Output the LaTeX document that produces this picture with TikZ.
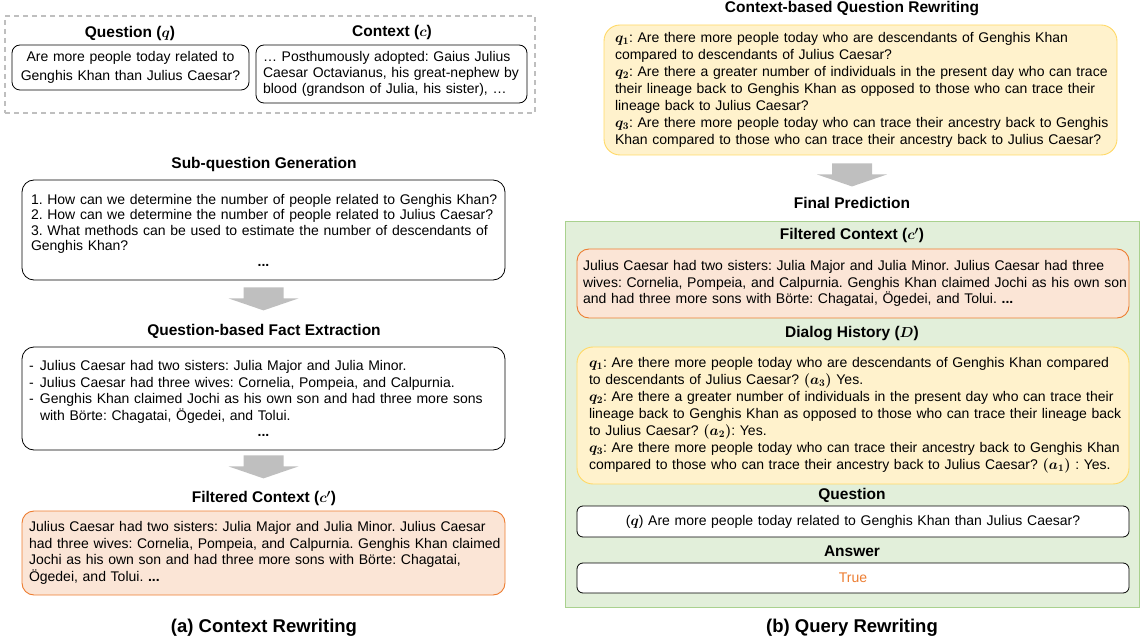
\documentclass[tikz,border=0pt]{standalone}
\usepackage{amsmath}
\usepackage{bm}
\usepackage{fontspec}
\setmainfont{Liberation Sans}
\usetikzlibrary{calc}
\definecolor{orangefill}{HTML}{FBE5D6}
\definecolor{orangeline}{HTML}{ED7D31}
\definecolor{yellowfill}{HTML}{FFF2CC}
\definecolor{yellowline}{HTML}{FFD966}
\definecolor{greenfill}{HTML}{E2EFDA}
\definecolor{greenline}{HTML}{A9D18E}
\definecolor{arrowgray}{HTML}{BFBFBF}
\definecolor{dashgray}{HTML}{BFBFBF}
\newcommand\jst[1]{\makebox[\linewidth][s]{#1}\\}
\newcommand\oneline[1]{\mbox{#1}\\}
\newcommand\ctrline[1]{\makebox[\linewidth][c]{#1}}
\tikzset{
  ttl/.style={font=\fontsize{15.5}{18}\selectfont\bfseries, inner sep=0pt, text height=11pt, text depth=3.5pt},
  captext/.style={font=\fontsize{18.5}{22}\selectfont\bfseries, inner sep=0pt},
  body/.style={font=\fontsize{14}{#1}\selectfont\frenchspacing, align=left, inner ysep=0pt},
  body/.default=16.5,
  wbox/.style={draw=black, line width=0.8pt, rounded corners=8pt, fill=white},
  obox/.style={draw=orangeline, line width=0.9pt, rounded corners=12pt, fill=orangefill},
  ybox/.style={draw=yellowline, line width=0.9pt, rounded corners=16pt, fill=yellowfill},
  gbox/.style={draw=greenline, line width=1pt, fill=greenfill},
  dbox/.style={draw=dashgray, line width=1.2pt, dash pattern=on 5pt off 4pt},
  wh/.style 2 args={minimum width=#1, minimum height=#2},
  downarrow/.pic={\fill[arrowgray] (-20,0) -- (20,0) -- (20,11) -- (35,11) -- (0,23) -- (-35,11) -- (-20,11) -- cycle;}
}
\begin{document}
\frenchspacing
\begin{tikzpicture}[x=1pt,y=-1pt]
\useasboundingbox (0,0) rectangle (1141,644);

% ---------- left: context rewriting ----------
\node[dbox, wh={530pt}{97pt}] (inputs) at (270,64.5) {};
\node[ttl] (qtitle) at (130,34) {Question ($\bm{q}$)};
\node[wbox, body=19, align=center, wh={237pt}{45pt}, text width=225pt, inner xsep=6pt] (qbox) at (130.5,67.5)
  {Are more people today related to\\Genghis Khan than Julius Caesar?};
\node[ttl] (ctitle) at (392,33) {Context ($\bm{c}$)};
\node[wbox, body=16, wh={271pt}{58pt}, text width=257pt, inner xsep=7pt] (cbox) at (391.5,74)
  {\jst{… Posthumously adopted: Gaius Julius}
   \jst{Caesar Octavianus, his great-nephew by}
   blood (grandson of Julia, his sister), …};

\node[ttl] (subtitle) at (264,165) {Sub-question Generation};
\node[wbox, rounded corners=12pt, body=15.5, wh={483pt}{100pt}, text width=465pt, inner xsep=9pt] (sub) at (263.5,230)
  {\oneline{1. How can we determine the number of people related to Genghis Khan?}
   \oneline{2. How can we determine the number of people related to Julius Caesar?}
   \oneline{3. What methods can be used to estimate the number of descendants of}
   \oneline{Genghis Khan?}
   \ctrline{\textbf{...}}};
\pic at ($(sub.south)+(0,7)$) {downarrow};

\node[ttl] (facttitle) at (264,332) {Question-based Fact Extraction};
\node[wbox, rounded corners=12pt, body=16.5, wh={483pt}{103pt}, text width=469pt, inner xsep=7pt] (fact) at (263.5,398.5)
  {\oneline{\makebox[11pt][l]{-}Julius Caesar had two sisters: Julia Major and Julia Minor.}
   \oneline{\makebox[11pt][l]{-}Julius Caesar had three wives: Cornelia, Pompeia, and Calpurnia.}
   \oneline{\makebox[11pt][l]{-}Genghis Khan claimed Jochi as his own son and had three more sons}
   \oneline{\hspace*{11pt}with Börte: Chagatai, Ögedei, and Tolui.}
   \ctrline{\textbf{...}}};
\pic at ($(fact.south)+(0,5)$) {downarrow};

\node[ttl] (ftitle) at (264,499) {Filtered Context ($\bm{c'}$)};
\node[obox, body=16.5, wh={483pt}{84pt}, text width=469pt, inner xsep=7pt] (filt) at (263.5,553)
  {\jst{Julius Caesar had two sisters: Julia Major and Julia Minor. Julius Caesar}
   \jst{had three wives: Cornelia, Pompeia, and Calpurnia. Genghis Khan claimed}
   \jst{Jochi as his own son and had three more sons with Börte: Chagatai,}
   Ögedei, and Tolui. \textbf{...}};

\node[captext] (capa) at (264,628) {(a) Context Rewriting};

% ---------- right: query rewriting ----------
\node[ttl] (rwtitle) at (852,9) {Context-based Question Rewriting};
\node[ybox, body=17, wh={513pt}{130pt}, text width=491pt, inner xsep=11pt] (rw) at (860.5,90)
  {\oneline{$\bm{q_1}$: Are there more people today who are descendants of Genghis Khan}
   \oneline{compared to descendants of Julius Caesar?}
   \oneline{$\bm{q_2}$: Are there a greater number of individuals in the present day who can trace}
   \oneline{their lineage back to Genghis Khan as opposed to those who can trace their}
   \oneline{lineage back to Julius Caesar?}
   \oneline{$\bm{q_3}$: Are there more people today who can trace their ancestry back to Genghis}
   \mbox{Khan compared to those who can trace their ancestry back to Julius Caesar?}};

\node[ttl] (fptitle) at (852,205) {Final Prediction};
\pic at ($(rw.south -| fptitle.north)+(0,8)$) {downarrow};

\node[gbox, wh={574pt}{385pt}] (final) at (852,414.5) {};

\node[ttl] (f2title) at (852,236) {Filtered Context ($\bm{c'}$)};
\node[obox, body=16.5, wh={552pt}{69pt}, text width=540pt, inner xsep=6pt] (filt2) at (853,283.5)
  {\jst{Julius Caesar had two sisters: Julia Major and Julia Minor. Julius Caesar had three}
   \jst{wives: Cornelia, Pompeia, and Calpurnia. Genghis Khan claimed Jochi as his own son}
   and had three more sons with Börte: Chagatai, Ögedei, and Tolui. \textbf{...}};

\node[ttl] (dtitle) at (852,334) {Dialog History ($\bm{D}$)};
\node[ybox, body=17, wh={552pt}{137pt}, text width=528pt, inner xsep=12pt] (dial) at (853,415.5)
  {\oneline{$\bm{q_1}$: Are there more people today who are descendants of Genghis Khan compared}
   \oneline{to descendants of Julius Caesar? $\bm{(a_3)}$ Yes.}
   \oneline{$\bm{q_2}$: Are there a greater number of individuals in the present day who can trace their}
   \oneline{lineage back to Genghis Khan as opposed to those who can trace their lineage back}
   \oneline{to Julius Caesar? $\bm{(a_2)}$: Yes.}
   \oneline{$\bm{q_3}$: Are there more people today who can trace their ancestry back to Genghis Khan}
   \mbox{compared to those who can trace their ancestry back to Julius Caesar? $\bm{(a_1)}$ : Yes.}};

\node[ttl] (questtitle) at (852,496) {Question};
\node[wbox, rounded corners=6pt, body, align=center, wh={552pt}{31pt}, text width=540pt, inner xsep=6pt] (quest) at (853,521.5)
  {($\bm{q}$) Are more people today related to Genghis Khan than Julius Caesar?};

\node[ttl] (anstitle) at (852,553) {Answer};
\node[wbox, rounded corners=6pt, body, align=center, wh={552pt}{30pt}, text width=540pt, inner xsep=6pt, text=orangeline] (ans) at (853,578)
  {True};

\node[captext] (capb) at (852,628) {(b) Query Rewriting};
\end{tikzpicture}
\end{document}
